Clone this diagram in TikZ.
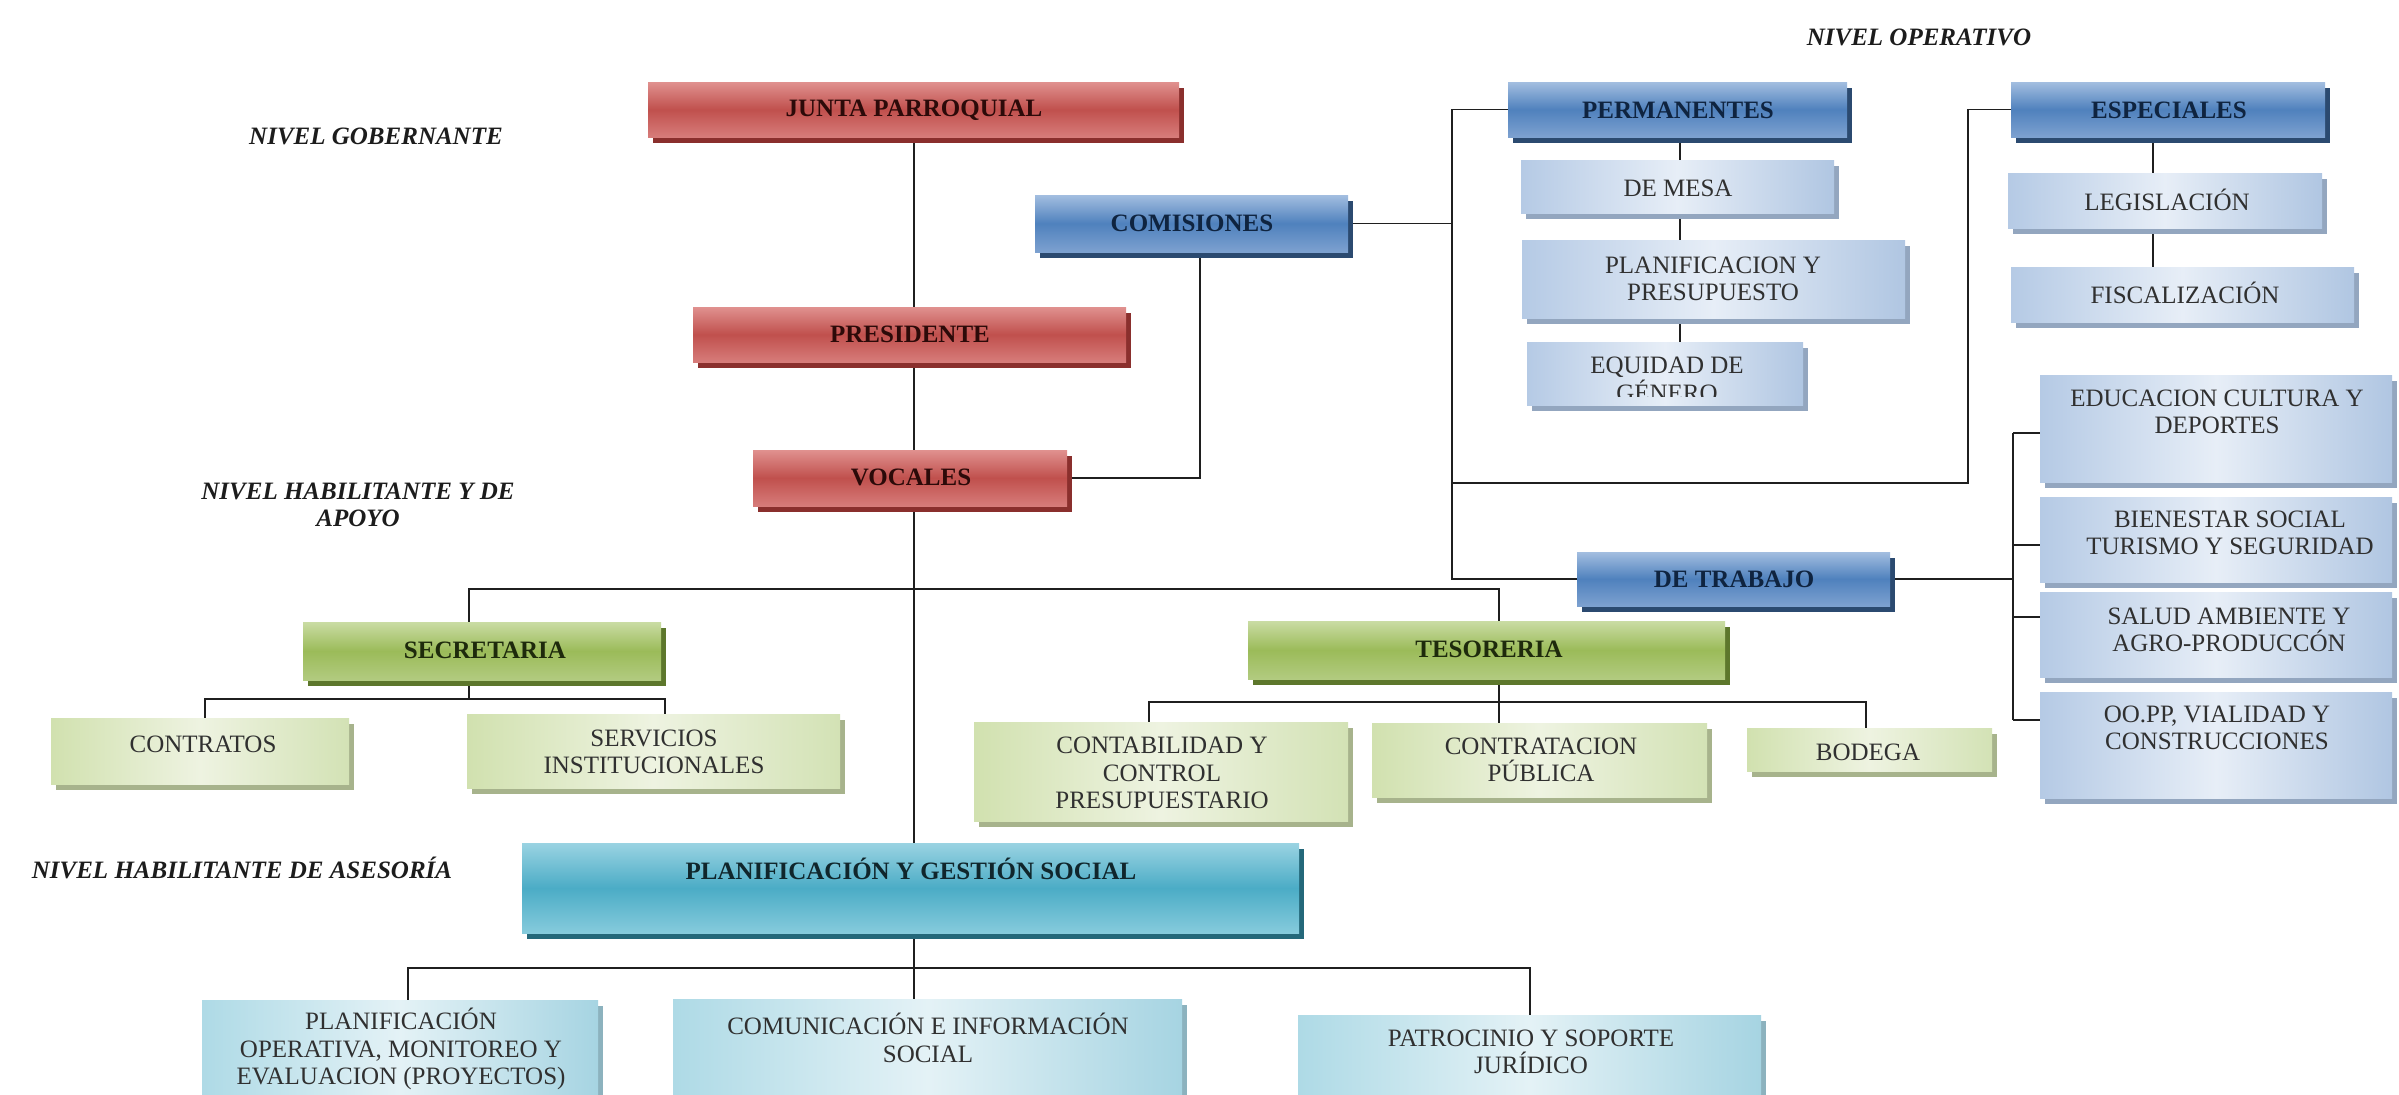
\documentclass[tikz,border=0pt]{standalone}
\usepackage{fontspec}
\setmainfont{Liberation Serif}
\usetikzlibrary{shadows}
\definecolor{redT}{HTML}{E0918F}
\definecolor{redM}{HTML}{C0504D}
\definecolor{redB}{HTML}{D77C7A}
\definecolor{redS}{HTML}{8A2F2D}
\definecolor{bluT}{HTML}{A3BEE0}
\definecolor{bluM}{HTML}{4F81BD}
\definecolor{bluB}{HTML}{7DA1D0}
\definecolor{bluS}{HTML}{2B4A70}
\definecolor{grnT}{HTML}{CADCA4}
\definecolor{grnM}{HTML}{9BBB59}
\definecolor{grnB}{HTML}{B2CB80}
\definecolor{grnS}{HTML}{5D772C}
\definecolor{cyaT}{HTML}{9AD3E2}
\definecolor{cyaM}{HTML}{4BACC6}
\definecolor{cyaB}{HTML}{86CBDC}
\definecolor{cyaS}{HTML}{24687A}
\definecolor{lbL}{HTML}{B5CAE5}
\definecolor{lbM}{HTML}{E7EEF7}
\definecolor{lbR}{HTML}{B0C6E2}
\definecolor{lbS}{HTML}{93A6BF}
\definecolor{lgL}{HTML}{D1E1AF}
\definecolor{lgM}{HTML}{EEF3E1}
\definecolor{lgR}{HTML}{D3E2B5}
\definecolor{lgS}{HTML}{A7B38C}
\definecolor{lcL}{HTML}{AEDAE6}
\definecolor{lcM}{HTML}{E4F2F6}
\definecolor{lcR}{HTML}{A6D4E2}
\definecolor{lcS}{HTML}{8CB2BE}
\definecolor{txRed}{HTML}{2C0A09}
\definecolor{txBlu}{HTML}{0F2440}
\definecolor{txGrn}{HTML}{1E2A0C}
\definecolor{txCya}{HTML}{10262C}
\definecolor{txSub}{HTML}{303030}
\definecolor{txLvl}{HTML}{1C1C1C}
\newcommand\hdfont{\fontsize{25}{29}\selectfont\bfseries}
\newcommand\sbfont{\fontsize{25}{27.5}\selectfont}
\newcommand\lvfont{\fontsize{25}{27}\selectfont\bfseries\itshape}
\newcommand\mkbox[6]{\node[#2,anchor=north west,minimum width={(#5-#3)*1pt},minimum height={(#6-#4)*1pt}] (#1) at (#3,#4) {};}
\pgfdeclarelayer{back}
\pgfdeclarelayer{lines}
\pgfsetlayers{back,lines,main}
\tikzset{
  boxbase/.style={rectangle,inner sep=0pt,outer sep=0pt},
  redhd/.style={boxbase,top color=redT,bottom color=redB,middle color=redM,
    drop shadow={shadow xshift=5pt,shadow yshift=-6pt,fill=redS,opacity=1}},
  bluhd/.style={boxbase,top color=bluT,bottom color=bluB,middle color=bluM,
    drop shadow={shadow xshift=5pt,shadow yshift=-6pt,fill=bluS,opacity=1}},
  grnhd/.style={boxbase,top color=grnT,bottom color=grnB,middle color=grnM,
    drop shadow={shadow xshift=5pt,shadow yshift=-6pt,fill=grnS,opacity=1}},
  cyahd/.style={boxbase,top color=cyaT,bottom color=cyaB,middle color=cyaM,
    drop shadow={shadow xshift=5pt,shadow yshift=-6pt,fill=cyaS,opacity=1}},
  lblu/.style={boxbase,left color=lbL,right color=lbR,middle color=lbM,
    drop shadow={shadow xshift=5pt,shadow yshift=-6pt,fill=lbS,opacity=1}},
  lgrn/.style={boxbase,left color=lgL,right color=lgR,middle color=lgM,
    drop shadow={shadow xshift=5pt,shadow yshift=-6pt,fill=lgS,opacity=1}},
  lcya/.style={boxbase,left color=lcL,right color=lcR,middle color=lcM,
    drop shadow={shadow xshift=5pt,shadow yshift=-6pt,fill=lcS,opacity=1}},
  hdtxt/.style={inner sep=0pt,font=\hdfont,align=center},
  tred/.style={hdtxt,text=txRed},
  tblu/.style={hdtxt,text=txBlu},
  tgrn/.style={hdtxt,text=txGrn},
  tcya/.style={hdtxt,text=txCya},
  subtxt/.style={inner sep=0pt,font=\sbfont,align=center,text=txSub},
  lvl/.style={inner sep=0pt,font=\lvfont,align=center,text=txLvl},
  conn/.style={draw=black!88,line width=1.7pt},
}
\begin{document}
\begin{tikzpicture}[x=1pt,y=-1pt]
\useasboundingbox (0,0) rectangle (2399,1095);
\begin{pgfonlayer}{back}
\fill[white] (0,0) rectangle (2399,1095);
\end{pgfonlayer}
\clip (0,0) rectangle (2399,1095);

% ---------- boxes ----------
\mkbox{junta}{redhd}{648}{82}{1179}{137}
\mkbox{pres}{redhd}{693}{307}{1126}{362}
\mkbox{voc}{redhd}{753}{450}{1067}{506}
\mkbox{comi}{bluhd}{1035}{195}{1348}{252}
\mkbox{perm}{bluhd}{1508}{82}{1847}{137}
\mkbox{esp}{bluhd}{2011}{82}{2325}{137}
\mkbox{trab}{bluhd}{1577}{552}{1890}{606}
\mkbox{mesa}{lblu}{1521}{160}{1834}{213}
\mkbox{ppre}{lblu}{1522}{240}{1905}{318}
\mkbox{equi}{lblu}{1527}{342}{1803}{405}
\mkbox{legi}{lblu}{2008}{173}{2322}{228}
\mkbox{fisc}{lblu}{2011}{267}{2354}{322}
\mkbox{educ}{lblu}{2040}{375}{2392}{482}
\mkbox{bien}{lblu}{2040}{497}{2392}{582}
\mkbox{salu}{lblu}{2040}{592}{2392}{677}
\mkbox{oopp}{lblu}{2040}{692}{2392}{798}
\mkbox{secr}{grnhd}{303}{622}{661}{680}
\mkbox{teso}{grnhd}{1248}{621}{1725}{679}
\mkbox{cntr}{lgrn}{51}{718}{349}{784}
\mkbox{serv}{lgrn}{467}{714}{840}{788}
\mkbox{cont}{lgrn}{974}{722}{1348}{821}
\mkbox{cpub}{lgrn}{1372}{723}{1707}{797}
\mkbox{bode}{lgrn}{1747}{728}{1992}{771}
\mkbox{gest}{cyahd}{522}{843}{1299}{933}
\mkbox{pope}{lcya}{202}{1000}{598}{1110}
\mkbox{comu}{lcya}{673}{999}{1182}{1110}
\mkbox{patr}{lcya}{1298}{1015}{1761}{1110}

% ---------- texts ----------
\node[tred] (t-junta) at (914,110) {JUNTA PARROQUIAL};
\node[tred] (t-pres) at (910,334) {PRESIDENTE};
\node[tred] (t-voc) at (911,477) {VOCALES};
\node[tblu] (t-comi) at (1192,223) {COMISIONES};
\node[tblu] (t-perm) at (1678,110) {PERMANENTES};
\node[tblu] (t-esp) at (2169,110) {ESPECIALES};
\node[tblu] (t-trab) at (1734,579) {DE TRABAJO};
\node[tgrn] (t-secr) at (485,650) {SECRETARIA};
\node[tgrn] (t-teso) at (1489,649) {TESORERIA};
\node[tcya] (t-gest) at (911,869) {PLANIFICACIÓN Y GESTIÓN SOCIAL};

\node[subtxt] (t-mesa) at (1678,188) {DE MESA};
\node[subtxt] (t-ppre) at (1713,279) {PLANIFICACION Y\\PRESUPUESTO};
\coordinate (clipy) at (0,396);
\begin{scope}
\clip (equi.north west) rectangle (equi.east |- clipy);
\node[subtxt,anchor=north] (t-equi) at (1667,357) {EQUIDAD DE\\GÉNERO};
\end{scope}
\node[subtxt] (t-legi) at (2167,200) {LEGISLACIÓN};
\node[subtxt] (t-fisc) at (2185,293) {FISCALIZACIÓN};
\node[subtxt] (t-educ) at (2217,412) {EDUCACION CULTURA Y\\DEPORTES};
\node[subtxt] (t-bien) at (2230,533) {BIENESTAR SOCIAL\\TURISMO Y SEGURIDAD};
\node[subtxt] (t-salu) at (2229,630) {SALUD AMBIENTE Y\\AGRO-PRODUCCÓN};
\node[subtxt] (t-oopp) at (2217,728) {OO.PP, VIALIDAD Y\\CONSTRUCCIONES};
\node[subtxt] (t-cntr) at (203,744) {CONTRATOS};
\node[subtxt] (t-serv) at (654,752) {SERVICIOS\\INSTITUCIONALES};
\node[subtxt] (t-cont) at (1162,773) {CONTABILIDAD Y\\CONTROL\\PRESUPUESTARIO};
\node[subtxt] (t-cpub) at (1541,760) {CONTRATACION\\PÚBLICA};
\node[subtxt] (t-bode) at (1868,752) {BODEGA};
\node[subtxt] (t-pope) at (401,1049) {PLANIFICACIÓN\\OPERATIVA, MONITOREO Y\\EVALUACION (PROYECTOS)};
\node[subtxt] (t-comu) at (928,1038) {COMUNICACIÓN E INFORMACIÓN\\SOCIAL};
\node[subtxt] (t-patr) at (1531,1052) {PATROCINIO Y SOPORTE\\JURÍDICO};

% ---------- level labels ----------
\node[lvl] (l-oper) at (1919,37) {NIVEL OPERATIVO};
\node[lvl] (l-gob) at (376,136) {NIVEL GOBERNANTE};
\node[lvl] (l-hab) at (358,505) {NIVEL HABILITANTE Y DE\\APOYO};
\node[lvl] (l-ase) at (242,868) {NIVEL HABILITANTE DE ASESORÍA};

% ---------- connectors ----------
\coordinate (xtr) at (914,0);
\coordinate (xsec) at (469,0);
\coordinate (xtes) at (1499,0);
\coordinate (ybusA) at (0,589);
\coordinate (ybusS) at (0,699);
\coordinate (xcn) at (205,0);
\coordinate (xsv) at (665,0);
\coordinate (ybusT) at (0,702);
\coordinate (xct) at (1149,0);
\coordinate (xbd) at (1866,0);
\coordinate (ybusG) at (0,968);
\coordinate (xpo) at (408,0);
\coordinate (xpa) at (1530,0);
\coordinate (xvc) at (1200,0);
\coordinate (xv) at (1452,0);
\coordinate (xe) at (1968,0);
\coordinate (ye) at (0,483);
\coordinate (xpm) at (1680,0);
\coordinate (xes) at (2153,0);
\coordinate (xd) at (2013,0);
\coordinate (s1) at (0,433);
\coordinate (s2) at (0,545);
\coordinate (s3) at (0,617);
\coordinate (s4) at (0,720);
\begin{pgfonlayer}{lines}
\draw[conn] (junta.south -| xtr) -- (pres.north -| xtr);
\draw[conn] (pres.south -| xtr) -- (voc.north -| xtr);
\draw[conn] (voc.south -| xtr) -- (gest.north -| xtr);
\draw[conn] (secr.north -| xsec) -- (xsec |- ybusA) -- (xtes |- ybusA) -- (teso.north -| xtes);
\draw[conn] (secr.south -| xsec) -- (xsec |- ybusS);
\draw[conn] (cntr.north -| xcn) -- (xcn |- ybusS) -- (xsv |- ybusS) -- (serv.north -| xsv);
\draw[conn] (teso.south -| xtes) -- (cpub.north -| xtes);
\draw[conn] (cont.north -| xct) -- (xct |- ybusT) -- (xbd |- ybusT) -- (bode.north -| xbd);
\draw[conn] (gest.south -| xtr) -- (comu.north -| xtr);
\draw[conn] (pope.north -| xpo) -- (xpo |- ybusG) -- (xpa |- ybusG) -- (patr.north -| xpa);
\draw[conn] (voc.east) -| (comi.south -| xvc);
\draw[conn] (comi.east) -- (comi.east -| xv);
\draw[conn] (perm.west) -| (trab.west -| xv) -- (trab.west);
\draw[conn] (esp.west) -| (xe |- ye) -- (xv |- ye);
\draw[conn] (perm.south -| xpm) -- (mesa.north -| xpm);
\draw[conn] (mesa.south -| xpm) -- (ppre.north -| xpm);
\draw[conn] (ppre.south -| xpm) -- (equi.north -| xpm);
\draw[conn] (esp.south -| xes) -- (legi.north -| xes);
\draw[conn] (legi.south -| xes) -- (fisc.north -| xes);
\draw[conn] (trab.east) -- (trab.east -| xd);
\draw[conn] (xd |- s1) -- (xd |- s4);
\draw[conn] (xd |- s1) -- (educ.west |- s1);
\draw[conn] (xd |- s2) -- (bien.west |- s2);
\draw[conn] (xd |- s3) -- (salu.west |- s3);
\draw[conn] (xd |- s4) -- (oopp.west |- s4);
\end{pgfonlayer}
\end{tikzpicture}
\end{document}
